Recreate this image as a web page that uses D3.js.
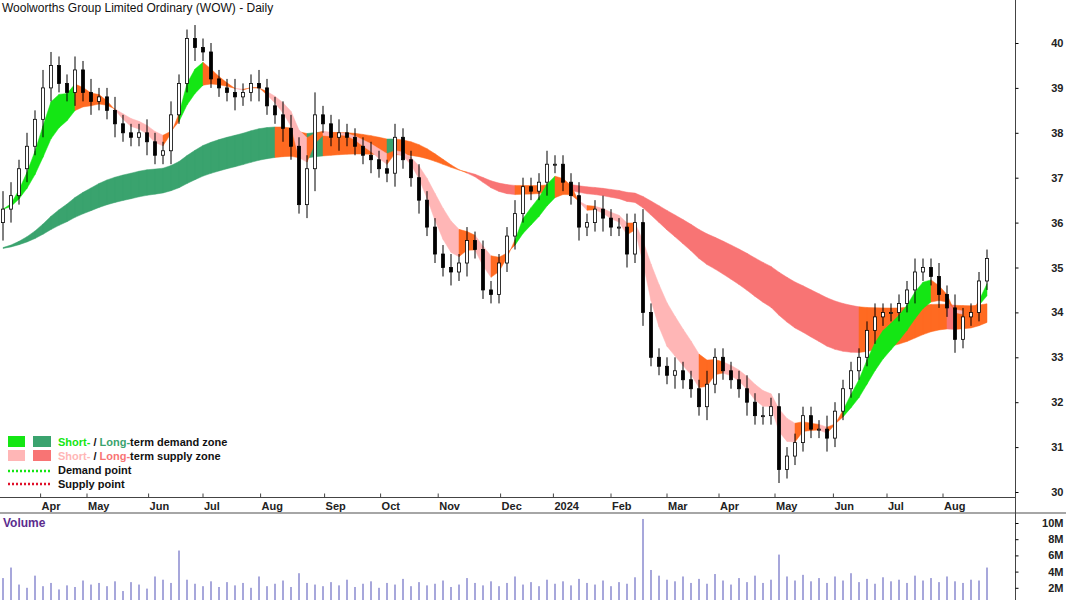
<!DOCTYPE html>
<html><head><meta charset="utf-8">
<script src="https://cdn.jsdelivr.net/npm/d3@7/dist/d3.min.js"></script>
<style>body{margin:0;background:#fff}svg{font-family:Arial,"Liberation Sans",sans-serif}</style>
</head><body><div id="chart"></div>
<script>
var closes = [36.3,36.6,37.2,37.7,38.3,39.0,39.5,39.1,38.9,39.4,38.9,38.7,38.8,38.5,38.2,38.0,37.9,38.0,37.8,37.5,
  37.6,38.4,39.1,40.1,39.9,39.8,39.2,39.0,38.9,38.8,38.9,39.1,39.0,38.6,38.4,38.1,37.7,36.4,37.2,38.4,
  38.2,37.9,38.0,37.9,37.7,37.5,37.4,37.2,37.1,37.9,37.4,37.0,36.5,35.9,35.3,35.0,34.9,35.1,35.6,35.4,
  34.5,34.4,35.1,35.7,36.2,36.8,36.7,36.9,37.3,37.3,36.9,36.6,35.9,36.0,36.3,36.1,35.9,35.9,35.3,36.0,
  34.0,33.0,32.8,32.6,32.7,32.5,32.3,31.9,32.4,33.0,32.7,32.5,32.3,32.0,31.7,31.7,31.9,30.5,30.8,31.1,
  31.7,31.4,31.4,31.2,31.8,32.3,32.7,33.0,33.6,33.9,34.0,34.0,34.2,34.5,34.9,35.0,34.8,34.4,34.1,33.4,
  33.9,34.0,34.7,35.2];
var firstOpen = 36.0;
var longSeed = 35.4;
var wicks = [0.4,0.3,0.2,0.3,0.2,0.4,0.3,0.2,0.2,0.3,0.2,0.3,0.2,0.2,0.3,0.2,0.2,0.2,0.3,0.2,
  0.2,0.3,0.2,0.2,0.3,0.2,0.2,0.2,0.2,0.3,0.2,0.2,0.3,0.2,0.2,0.3,0.3,0.2,0.3,0.5,
  0.2,0.2,0.3,0.2,0.2,0.2,0.3,0.2,0.2,0.3,0.2,0.2,0.3,0.2,0.2,0.2,0.3,0.2,0.3,0.2,
  0.2,0.2,0.2,0.2,0.3,0.2,0.2,0.2,0.3,0.2,0.2,0.2,0.3,0.2,0.2,0.3,0.2,0.2,0.3,0.2,
  0.3,0.2,0.2,0.2,0.3,0.2,0.2,0.2,0.3,0.2,0.2,0.2,0.2,0.3,0.2,0.2,0.2,0.3,0.2,0.2,
  0.2,0.2,0.2,0.3,0.2,0.2,0.2,0.2,0.2,0.3,0.2,0.2,0.2,0.2,0.3,0.2,0.2,0.3,0.2,0.3,
  0.2,0.2,0.2,0.2];
var volumes = [3.2,4.5,2.4,2.0,3.5,2.2,2.6,1.8,2.3,2.1,2.9,2.4,2.6,2.2,2.8,1.6,2.7,2.4,1.9,3.4,
  3.0,2.6,6.6,3.0,2.5,2.2,2.8,2.1,2.7,2.3,2.6,2.0,3.4,2.2,2.5,2.9,2.1,3.8,2.6,2.4,
  2.2,2.7,2.3,3.0,2.1,2.5,2.8,2.0,2.6,2.4,3.1,2.2,2.7,2.3,2.5,2.9,2.1,2.4,3.2,2.6,
  2.3,2.8,2.2,2.6,3.4,2.4,2.7,2.2,3.0,2.5,2.8,2.3,3.1,2.6,2.4,2.9,2.2,2.7,2.5,3.3,
  10.5,4.2,3.5,3.0,2.8,3.4,2.6,3.1,2.5,3.7,2.9,2.4,3.2,2.7,3.5,2.6,3.0,6.1,3.4,2.9,
  3.6,2.8,3.2,2.6,3.4,2.9,3.8,2.7,3.1,2.5,3.3,2.8,3.0,2.6,3.5,2.9,3.2,2.7,3.4,2.8,
  2.6,3.0,2.9,4.5];
var monthLabels = ["Apr","May","Jun","Jul","Aug","Sep","Oct","Nov","Dec","2024","Feb","Mar","Apr","May","Jun","Jul","Aug"];
var monthPos = [4.7,10.5,18.2,25,32.2,40.2,47.2,54.4,62.2,68.8,76,83,89.5,96.5,103.8,110.5,117.5];
var priceTicks = [30,31,32,33,34,35,36,37,38,39,40];
var volTicks = [2,4,6,8,10];

var W = 1066, H = 600, axisX = 1015;
var svg = d3.select("#chart").append("svg").attr("width", W).attr("height", H);

var x = d3.scaleLinear().domain([0, closes.length - 1]).range([3, 987]);
var y = d3.scaleLinear().domain([30, 40]).range([492, 43]);
var yv = d3.scaleLinear().domain([0, 10]).range([604, 523]);

function ema(arr, n, seed) {
  var k = 2 / (n + 1), out = [], v = seed;
  arr.forEach(function(c) { v = c * k + v * (1 - k); out.push(v); });
  return out;
}
var sA = ema(closes, 4, closes[0]), sB = ema(closes, 9, closes[0]);
var lA = ema(closes, 40, longSeed), lB = ema(closes, 70, longSeed);

function zoneColor(a, b, i, up, down) {
  var rising = a[i + 1] >= a[i];
  if (a[i] >= b[i]) return rising ? up : "#ff6a21";
  return rising ? "#ff6a21" : down;
}
function drawBand(a, b, up, down) {
  for (var i = 0; i < closes.length - 1; i++) {
    var pts = [[x(i), y(a[i])], [x(i + 1), y(a[i + 1])], [x(i + 1), y(b[i + 1])], [x(i), y(b[i])]];
    var col = zoneColor(a, b, i, up, down);
    svg.append("path").attr("d", "M" + pts.join("L") + "Z").attr("fill", col).attr("stroke", col).attr("stroke-width", 0.5);
  }
}
drawBand(lA, lB, "#3aa36e", "#f87474");
drawBand(sA, sB, "#14e614", "#ffb6b6");

// candles
closes.forEach(function(c, i) {
  var o = i === 0 ? firstOpen : closes[i - 1];
  var hi = Math.max(o, c) + wicks[i], lo = Math.min(o, c) - wicks[i];
  var cx = x(i);
  svg.append("line").attr("x1", cx).attr("x2", cx).attr("y1", y(hi)).attr("y2", y(lo)).attr("stroke", "#000");
  svg.append("rect").attr("x", cx - 1.5).attr("width", 3)
    .attr("y", y(Math.max(o, c))).attr("height", Math.max(1, Math.abs(y(o) - y(c))))
    .attr("fill", c >= o ? "#fff" : "#000").attr("stroke", "#000").attr("stroke-width", 0.8);
});

// frame lines
svg.append("line").attr("x1", 0).attr("x2", axisX).attr("y1", 497.5).attr("y2", 497.5).attr("stroke", "#444");
svg.append("line").attr("x1", 0).attr("x2", W).attr("y1", 513).attr("y2", 513).attr("stroke", "#888").attr("stroke-width", 1.5);
svg.append("line").attr("x1", axisX + 0.5).attr("x2", axisX + 0.5).attr("y1", 0).attr("y2", H).attr("stroke", "#444");

// price axis
var pa = svg.append("g").attr("transform", "translate(" + (axisX + 0.5) + ",0)")
  .call(d3.axisRight(y).tickValues(priceTicks).tickSize(3).tickFormat(d3.format("d")));
pa.select(".domain").remove();
pa.selectAll("text").attr("x", 48).attr("text-anchor", "end").attr("font-size", 11).attr("font-weight", "bold").attr("fill", "#222");

// volume axis
var va = svg.append("g").attr("transform", "translate(" + (axisX + 0.5) + ",0)")
  .call(d3.axisRight(yv).tickValues(volTicks).tickSize(3).tickFormat(function(d) { return d + "M"; }));
va.select(".domain").remove();
va.selectAll("text").attr("x", 48).attr("text-anchor", "end").attr("font-size", 11).attr("font-weight", "bold").attr("fill", "#222");

// month axis
var ma = svg.append("g").attr("transform", "translate(0,497.5)");
monthPos.forEach(function(p, i) {
  ma.append("line").attr("x1", x(p)).attr("x2", x(p)).attr("y1", 0).attr("y2", -4).attr("stroke", "#444");
  ma.append("text").attr("x", x(p) + 1).attr("y", 12).attr("font-size", 11).attr("font-weight", "bold").attr("fill", "#222").text(monthLabels[i]);
});

// volume bars
svg.selectAll(".vol").data(volumes).enter().append("rect")
  .attr("x", function(d, i) { return x(i) - 0.75; }).attr("width", 1.5)
  .attr("y", function(d) { return yv(d); }).attr("height", function(d) { return H - yv(d); })
  .attr("fill", "#8a8ad0");
svg.append("text").attr("x", 3).attr("y", 527).attr("font-size", 12).attr("font-weight", "bold").attr("fill", "#5b2d8e").text("Volume");

// title
svg.append("text").attr("x", 2).attr("y", 12).attr("font-size", 12).attr("fill", "#111").text("Woolworths Group Limited Ordinary (WOW) - Daily");

// legend
var lg = svg.append("g").attr("font-size", 11).attr("font-weight", "bold");
lg.append("rect").attr("x", 8).attr("y", 436).attr("width", 17).attr("height", 11).attr("fill", "#14e614");
lg.append("rect").attr("x", 33).attr("y", 436).attr("width", 18).attr("height", 11).attr("fill", "#3aa36e");
lg.append("rect").attr("x", 8).attr("y", 450).attr("width", 17).attr("height", 11).attr("fill", "#ffb6b6");
lg.append("rect").attr("x", 33).attr("y", 450).attr("width", 18).attr("height", 11).attr("fill", "#f87474");
var t1 = lg.append("text").attr("x", 58).attr("y", 446);
t1.append("tspan").attr("fill", "#14e614").text("Short-");
t1.append("tspan").attr("fill", "#111").text(" / ");
t1.append("tspan").attr("fill", "#3aa36e").text("Long-");
t1.append("tspan").attr("fill", "#111").text("term demand zone");
var t2 = lg.append("text").attr("x", 58).attr("y", 460);
t2.append("tspan").attr("fill", "#ffb6b6").text("Short-");
t2.append("tspan").attr("fill", "#111").text(" / ");
t2.append("tspan").attr("fill", "#f87474").text("Long-");
t2.append("tspan").attr("fill", "#111").text("term supply zone");
lg.append("line").attr("x1", 8).attr("x2", 51).attr("y1", 471).attr("y2", 471).attr("stroke", "#14e614").attr("stroke-width", 2.5).attr("stroke-dasharray", "2,2");
lg.append("line").attr("x1", 8).attr("x2", 51).attr("y1", 484).attr("y2", 484).attr("stroke", "#e0102a").attr("stroke-width", 2.5).attr("stroke-dasharray", "2,2");
lg.append("text").attr("x", 58).attr("y", 474).attr("fill", "#111").text("Demand point");
lg.append("text").attr("x", 58).attr("y", 488).attr("fill", "#111").text("Supply point");
</script></body></html>
